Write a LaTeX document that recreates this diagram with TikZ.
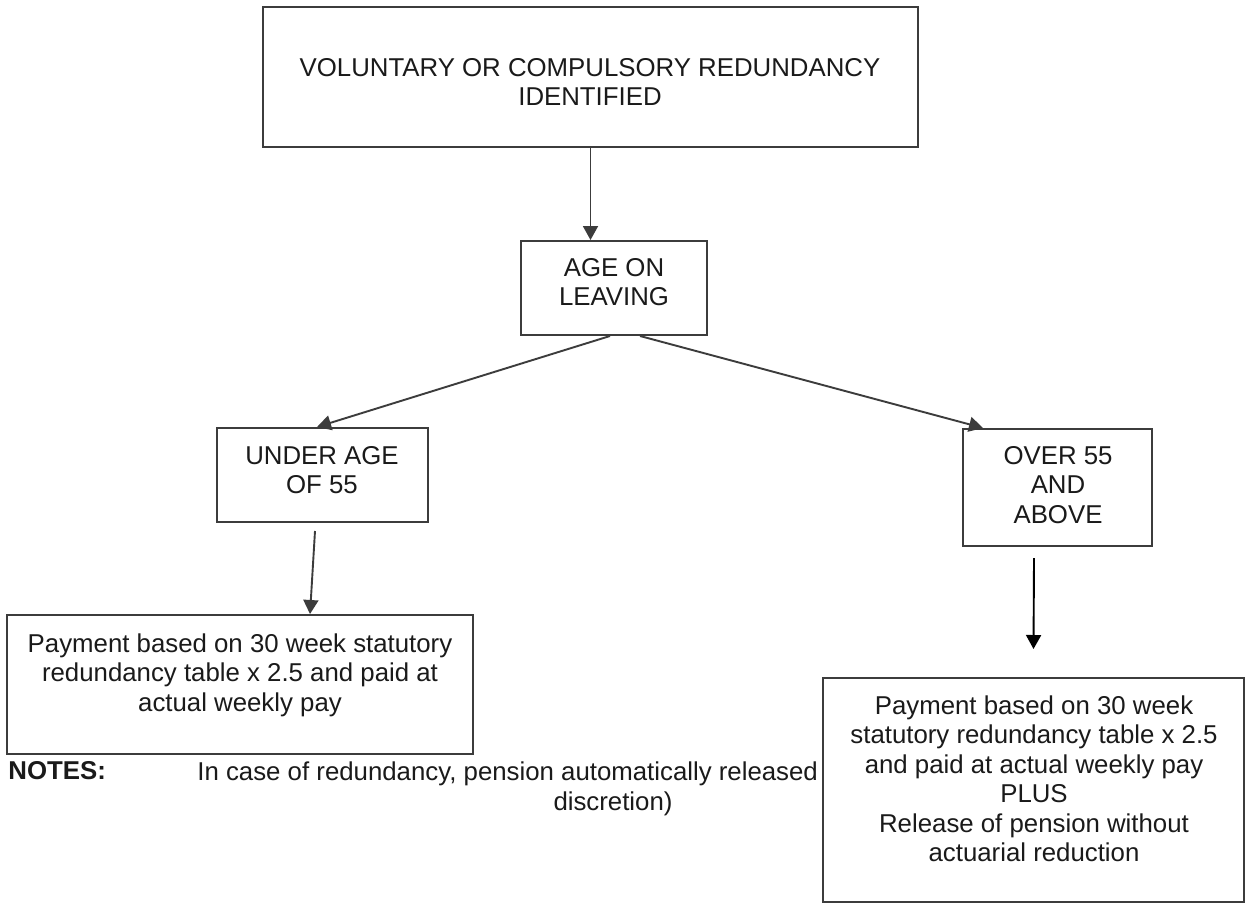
\documentclass[tikz,border=0pt]{standalone}
\usepackage{fontspec}
\setmainfont{Liberation Sans}
\usepackage{tikz}
\usetikzlibrary{arrows.meta,calc}
\usepackage{xcolor}
\definecolor{linegray}{HTML}{3C3C3C}
\definecolor{inkgray}{HTML}{1A1A1A}
\tikzstyle{flowbox}=[draw=linegray, line width=1pt, inner sep=0pt, fill=white]
\tikzstyle{flowtext}=[inner sep=0pt, align=center, text=inkgray, font=\fontsize{12.9pt}{14.75pt}\selectfont]
\tikzstyle{flowarrow}=[draw=linegray, line width=0.95pt, -{Triangle[length=7pt,width=7.5pt]}]

\begin{document}
\begin{tikzpicture}[x=0.5pt, y=-0.5pt]
	\useasboundingbox[fill=white] (0,0) rectangle (1245,904);
	\node[flowbox, minimum width=327.5pt, minimum height=70pt] (top) at (590.5,77) {};
	\node[flowbox, minimum width=93pt, minimum height=47pt] (age) at (614,288) {};
	\node[flowbox, minimum width=105.5pt, minimum height=47pt] (under) at (322.5,475) {};
	\node[flowbox, minimum width=94.5pt, minimum height=58.5pt] (over) at (1057.5,487.5) {};
	\node[flowbox, minimum width=233pt, minimum height=69.5pt] (payleft) at (240,684.5) {};
	\node[flowbox, minimum width=210.5pt, minimum height=112pt] (payright) at (1033.5,790) {};
	\node[flowtext] (toptext) at (590,82) {VOLUNTARY OR COMPULSORY REDUNDANCY\\IDENTIFIED};
	\node[flowtext] (agetext) at (614,282) {AGE ON\\LEAVING};
	\node[flowtext] (undertext) at (322,470) {UNDER AGE\\OF 55};
	\node[flowtext] (overtext) at (1058,485) {OVER 55\\AND\\ABOVE};
	\node[flowtext] (paylefttext) at (240,675) {Payment based on 30 week statutory\\redundancy table x 2.5 and paid at\\actual weekly pay};
	\node[flowtext] (payrighttext) at (1034,779) {Payment based on 30 week\\statutory redundancy table x 2.5\\and paid at actual weekly pay\\PLUS\\Release of pension without\\actuarial reduction};
	% notes under the left branch
	\node[flowtext, anchor=west, font=\fontsize{12.9pt}{14.75pt}\selectfont\bfseries] (notes) at (8,771) {NOTES:};
	\node[flowtext, anchor=west] (notestext) at (197,773.5) {In case of redundancy, pension automatically released};
	\node[flowtext] (notesmore) at (613,803.5) {discretion)};
	\draw[flowarrow] (top.south) -- (top.south |- age.north);
	\draw[flowarrow] ([xshift=-2pt]age.south) -- ([xshift=-2.75pt]under.north);
	\draw[flowarrow] ([xshift=13pt]age.south) -- ([xshift=-37.25pt]over.north);
	\draw[flowarrow] ([xshift=-3.75pt,yshift=-4pt]under.south) -- ([xshift=35pt]payleft.north);
	\draw[flowarrow, draw=black] ([xshift=-11.75pt,yshift=-5.5pt]over.south) -- ([yshift=14pt]payright.north);
\end{tikzpicture}
\end{document}
